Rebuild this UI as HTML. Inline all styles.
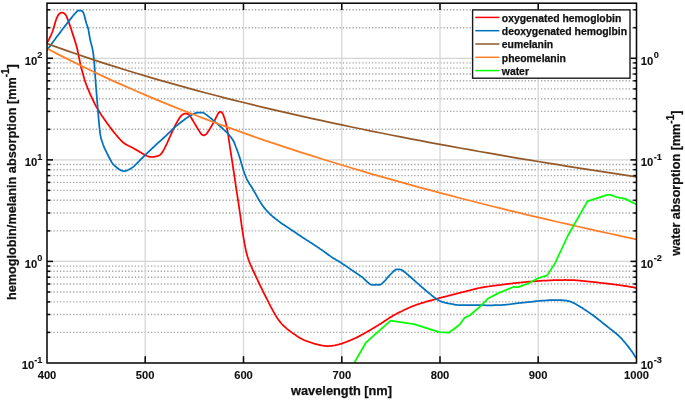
<!DOCTYPE html>
<html><head><meta charset="utf-8"><title>absorption spectra</title>
<style>html,body{margin:0;padding:0;background:#fff}</style></head>
<body>
<svg width="685" height="400" viewBox="0 0 685 400" style="display:block">
<rect width="685" height="400" fill="#fff"/>
<g stroke="#a6a6a6" stroke-width="1.4" stroke-dasharray="1.3 1.95" fill="none">
<line x1="47.0" x2="636.5" y1="332.4" y2="332.4"/>
<line x1="47.0" x2="636.5" y1="314.5" y2="314.5"/>
<line x1="47.0" x2="636.5" y1="301.9" y2="301.9"/>
<line x1="47.0" x2="636.5" y1="292.0" y2="292.0"/>
<line x1="47.0" x2="636.5" y1="284.0" y2="284.0"/>
<line x1="47.0" x2="636.5" y1="277.2" y2="277.2"/>
<line x1="47.0" x2="636.5" y1="271.3" y2="271.3"/>
<line x1="47.0" x2="636.5" y1="266.1" y2="266.1"/>
<line x1="47.0" x2="636.5" y1="230.9" y2="230.9"/>
<line x1="47.0" x2="636.5" y1="213.0" y2="213.0"/>
<line x1="47.0" x2="636.5" y1="200.3" y2="200.3"/>
<line x1="47.0" x2="636.5" y1="190.4" y2="190.4"/>
<line x1="47.0" x2="636.5" y1="182.4" y2="182.4"/>
<line x1="47.0" x2="636.5" y1="175.6" y2="175.6"/>
<line x1="47.0" x2="636.5" y1="169.7" y2="169.7"/>
<line x1="47.0" x2="636.5" y1="164.5" y2="164.5"/>
<line x1="47.0" x2="636.5" y1="129.3" y2="129.3"/>
<line x1="47.0" x2="636.5" y1="111.4" y2="111.4"/>
<line x1="47.0" x2="636.5" y1="98.7" y2="98.7"/>
<line x1="47.0" x2="636.5" y1="88.9" y2="88.9"/>
<line x1="47.0" x2="636.5" y1="80.8" y2="80.8"/>
<line x1="47.0" x2="636.5" y1="74.0" y2="74.0"/>
<line x1="47.0" x2="636.5" y1="68.1" y2="68.1"/>
<line x1="47.0" x2="636.5" y1="62.9" y2="62.9"/>
<line x1="47.0" x2="636.5" y1="27.7" y2="27.7"/>
<line x1="47.0" x2="636.5" y1="9.8" y2="9.8"/>
</g>
<g stroke="#d4d4d4" stroke-width="1.2" fill="none">
<line x1="47.0" x2="636.5" y1="261.4" y2="261.4"/>
<line x1="47.0" x2="636.5" y1="159.9" y2="159.9"/>
<line x1="47.0" x2="636.5" y1="58.3" y2="58.3"/>
<line x1="145.2" x2="145.2" y1="3.2" y2="363.0"/>
<line x1="243.5" x2="243.5" y1="3.2" y2="363.0"/>
<line x1="341.8" x2="341.8" y1="3.2" y2="363.0"/>
<line x1="440.0" x2="440.0" y1="3.2" y2="363.0"/>
<line x1="538.2" x2="538.2" y1="3.2" y2="363.0"/>
</g>
<clipPath id="c"><rect x="47.0" y="3.2" width="589.5" height="359.8"/></clipPath>
<g clip-path="url(#c)" fill="none" stroke-width="1.75" stroke-linejoin="round">
<polyline stroke="#ff0000" points="47.0,42.7 48.0,41.1 49.0,39.4 49.9,37.4 50.9,35.3 51.9,33.0 52.9,30.3 53.9,27.1 54.9,23.7 55.8,20.5 56.8,17.9 57.8,15.8 58.8,14.3 59.8,13.3 60.8,12.8 61.7,12.6 62.7,12.7 63.7,13.1 64.7,13.8 65.7,14.8 66.7,16.6 67.6,19.1 68.6,21.8 69.6,24.6 70.6,27.5 71.6,30.4 72.5,33.4 73.5,36.4 74.5,39.5 75.5,42.8 76.5,46.1 77.5,50.0 78.4,54.6 79.4,59.4 80.4,64.1 81.4,68.2 82.4,72.0 83.4,75.5 84.3,78.9 85.3,82.0 86.3,84.7 87.3,87.2 88.3,89.6 89.2,91.9 90.2,94.2 91.2,96.3 92.2,98.4 93.2,100.5 94.2,102.6 95.1,104.5 96.1,106.4 97.1,108.1 98.1,109.7 99.1,111.3 100.1,112.9 101.0,114.4 102.0,115.9 103.0,117.3 104.0,118.8 105.0,120.2 106.0,121.6 106.9,122.9 107.9,124.3 108.9,125.6 109.9,127.0 110.9,128.3 111.8,129.6 112.8,130.8 113.8,132.1 114.8,133.3 115.8,134.5 116.8,135.6 117.7,136.8 118.7,137.9 119.7,139.0 120.7,140.1 121.7,141.1 122.7,142.0 123.6,142.8 124.6,143.6 125.6,144.2 126.6,144.8 127.6,145.3 128.5,145.8 129.5,146.3 130.5,146.8 131.5,147.3 132.5,147.8 133.5,148.3 134.4,148.8 135.4,149.4 136.4,149.9 137.4,150.5 138.4,151.1 139.4,151.7 140.3,152.3 141.3,152.8 142.3,153.4 143.3,154.0 144.3,154.6 145.2,155.1 146.2,155.6 147.2,156.0 148.2,156.3 149.2,156.6 150.2,156.8 151.1,156.9 152.1,157.0 153.1,156.9 154.1,156.8 155.1,156.6 156.1,156.4 157.0,156.2 158.0,155.9 159.0,155.5 160.0,154.9 161.0,154.0 162.0,152.8 162.9,151.3 163.9,149.6 164.9,147.7 165.9,145.7 166.9,143.6 167.8,141.5 168.8,139.3 169.8,137.0 170.8,134.8 171.8,132.6 172.8,130.4 173.7,128.3 174.7,126.3 175.7,124.4 176.7,122.6 177.7,120.8 178.7,119.2 179.6,117.7 180.6,116.4 181.6,115.3 182.6,114.6 183.6,114.0 184.6,113.7 185.5,113.5 186.5,113.6 187.5,113.9 188.5,114.4 189.5,115.1 190.4,116.4 191.4,118.0 192.4,119.7 193.4,121.4 194.4,123.1 195.4,124.7 196.3,126.3 197.3,127.9 198.3,129.5 199.3,131.1 200.3,132.7 201.3,134.0 202.2,134.8 203.2,135.3 204.2,135.3 205.2,134.9 206.2,134.1 207.1,133.1 208.1,131.6 209.1,130.1 210.1,128.4 211.1,126.8 212.1,125.1 213.0,123.3 214.0,121.6 215.0,119.7 216.0,117.7 217.0,115.7 218.0,113.8 218.9,112.5 219.9,111.8 220.9,111.8 221.9,112.6 222.9,114.0 223.8,116.3 224.8,119.2 225.8,122.6 226.8,127.0 227.8,132.7 228.8,139.1 229.7,145.5 230.7,151.9 231.7,158.4 232.7,164.9 233.7,171.3 234.7,177.8 235.6,184.3 236.6,190.8 237.6,197.3 238.6,203.9 239.6,210.8 240.6,217.7 241.5,224.6 242.5,231.3 243.5,237.7 244.5,243.4 245.5,248.3 246.4,252.6 247.4,256.2 248.4,259.3 249.4,262.1 250.4,264.5 251.4,266.7 252.3,268.8 253.3,270.9 254.3,273.0 255.3,275.2 256.3,277.3 257.3,279.4 258.2,281.5 259.2,283.5 260.2,285.6 261.2,287.6 262.2,289.6 263.1,291.6 264.1,293.6 265.1,295.5 266.1,297.5 267.1,299.4 268.1,301.4 269.0,303.3 270.0,305.2 271.0,307.1 272.0,308.9 273.0,310.8 274.0,312.6 274.9,314.3 275.9,315.9 276.9,317.5 277.9,318.9 278.9,320.3 279.9,321.6 280.8,322.8 281.8,324.0 282.8,325.0 283.8,325.9 284.8,326.9 285.7,327.7 286.7,328.6 287.7,329.4 288.7,330.2 289.7,330.9 290.7,331.7 291.6,332.4 292.6,333.1 293.6,333.8 294.6,334.4 295.6,335.1 296.6,335.8 297.5,336.4 298.5,337.1 299.5,337.7 300.5,338.3 301.5,338.8 302.5,339.3 303.4,339.7 304.4,340.2 305.4,340.6 306.4,341.0 307.4,341.3 308.3,341.7 309.3,342.0 310.3,342.3 311.3,342.7 312.3,343.0 313.3,343.3 314.2,343.6 315.2,343.9 316.2,344.1 317.2,344.4 318.2,344.7 319.2,344.9 320.1,345.1 321.1,345.3 322.1,345.5 323.1,345.7 324.1,345.8 325.0,345.9 326.0,346.0 327.0,346.0 328.0,346.0 329.0,346.0 330.0,345.9 330.9,345.9 331.9,345.8 332.9,345.6 333.9,345.5 334.9,345.4 335.9,345.2 336.8,345.0 337.8,344.7 338.8,344.5 339.8,344.2 340.8,343.9 341.8,343.6 342.7,343.2 343.7,342.9 344.7,342.5 345.7,342.2 346.7,341.8 347.6,341.4 348.6,341.0 349.6,340.6 350.6,340.2 351.6,339.8 352.6,339.4 353.5,338.9 354.5,338.5 355.5,338.0 356.5,337.6 357.5,337.1 358.5,336.6 359.4,336.1 360.4,335.6 361.4,335.0 362.4,334.5 363.4,333.9 364.3,333.4 365.3,332.8 366.3,332.3 367.3,331.7 368.3,331.1 369.3,330.6 370.2,330.0 371.2,329.4 372.2,328.8 373.2,328.2 374.2,327.6 375.2,327.1 376.1,326.5 377.1,325.9 378.1,325.3 379.1,324.6 380.1,324.0 381.1,323.4 382.0,322.8 383.0,322.2 384.0,321.5 385.0,320.8 386.0,320.2 386.9,319.5 387.9,318.9 388.9,318.2 389.9,317.6 390.9,317.0 391.9,316.4 392.8,315.8 393.8,315.2 394.8,314.7 395.8,314.2 396.8,313.6 397.8,313.1 398.7,312.6 399.7,312.1 400.7,311.7 401.7,311.2 402.7,310.7 403.6,310.2 404.6,309.8 405.6,309.3 406.6,308.9 407.6,308.4 408.6,308.0 409.5,307.5 410.5,307.1 411.5,306.7 412.5,306.3 413.5,305.9 414.5,305.5 415.4,305.1 416.4,304.8 417.4,304.4 418.4,304.1 419.4,303.8 420.3,303.5 421.3,303.2 422.3,302.9 423.3,302.6 424.3,302.3 425.3,302.0 426.2,301.7 427.2,301.4 428.2,301.2 429.2,300.9 430.2,300.6 431.2,300.3 432.1,300.1 433.1,299.8 434.1,299.5 435.1,299.3 436.1,299.0 437.1,298.7 438.0,298.5 439.0,298.2 440.0,297.9 441.0,297.7 442.0,297.4 442.9,297.2 443.9,296.9 444.9,296.7 445.9,296.4 446.9,296.2 447.9,295.9 448.8,295.6 449.8,295.4 450.8,295.1 451.8,294.9 452.8,294.6 453.8,294.4 454.7,294.1 455.7,293.9 456.7,293.6 457.7,293.4 458.7,293.1 459.6,292.8 460.6,292.6 461.6,292.3 462.6,292.1 463.6,291.8 464.6,291.6 465.5,291.3 466.5,291.1 467.5,290.8 468.5,290.6 469.5,290.3 470.5,290.1 471.4,289.8 472.4,289.6 473.4,289.4 474.4,289.1 475.4,288.9 476.4,288.7 477.3,288.4 478.3,288.2 479.3,288.0 480.3,287.8 481.3,287.6 482.2,287.4 483.2,287.3 484.2,287.1 485.2,286.9 486.2,286.8 487.2,286.6 488.1,286.5 489.1,286.4 490.1,286.2 491.1,286.1 492.1,286.0 493.1,285.8 494.0,285.7 495.0,285.6 496.0,285.5 497.0,285.3 498.0,285.2 499.0,285.1 499.9,285.0 500.9,284.8 501.9,284.7 502.9,284.6 503.9,284.4 504.8,284.3 505.8,284.2 506.8,284.1 507.8,283.9 508.8,283.8 509.8,283.7 510.7,283.6 511.7,283.5 512.7,283.3 513.7,283.2 514.7,283.1 515.7,283.0 516.6,282.9 517.6,282.8 518.6,282.7 519.6,282.6 520.6,282.5 521.5,282.4 522.5,282.3 523.5,282.2 524.5,282.1 525.5,282.0 526.5,281.9 527.4,281.8 528.4,281.7 529.4,281.7 530.4,281.6 531.4,281.5 532.4,281.4 533.3,281.4 534.3,281.3 535.3,281.2 536.3,281.1 537.3,281.1 538.2,281.0 539.2,280.9 540.2,280.9 541.2,280.8 542.2,280.7 543.2,280.7 544.1,280.6 545.1,280.6 546.1,280.5 547.1,280.5 548.1,280.4 549.1,280.4 550.0,280.3 551.0,280.3 552.0,280.3 553.0,280.2 554.0,280.2 555.0,280.2 555.9,280.1 556.9,280.1 557.9,280.1 558.9,280.0 559.9,280.0 560.8,280.0 561.8,280.0 562.8,280.0 563.8,280.0 564.8,279.9 565.8,279.9 566.7,280.0 567.7,280.0 568.7,280.0 569.7,280.0 570.7,280.0 571.7,280.1 572.6,280.1 573.6,280.2 574.6,280.2 575.6,280.3 576.6,280.3 577.6,280.4 578.5,280.5 579.5,280.6 580.5,280.7 581.5,280.8 582.5,280.9 583.4,281.0 584.4,281.1 585.4,281.2 586.4,281.3 587.4,281.4 588.4,281.5 589.3,281.6 590.3,281.7 591.3,281.8 592.3,281.9 593.3,282.0 594.3,282.1 595.2,282.2 596.2,282.3 597.2,282.4 598.2,282.5 599.2,282.7 600.1,282.8 601.1,282.9 602.1,283.0 603.1,283.1 604.1,283.2 605.1,283.3 606.0,283.4 607.0,283.6 608.0,283.7 609.0,283.8 610.0,283.9 611.0,284.0 611.9,284.1 612.9,284.3 613.9,284.4 614.9,284.5 615.9,284.6 616.9,284.8 617.8,284.9 618.8,285.0 619.8,285.2 620.8,285.3 621.8,285.5 622.7,285.6 623.7,285.8 624.7,285.9 625.7,286.1 626.7,286.2 627.7,286.4 628.6,286.6 629.6,286.7 630.6,286.9 631.6,287.1 632.6,287.2 633.6,287.4 634.5,287.6 635.5,287.8 636.5,287.9"/>
<polyline stroke="#0072bd" points="47.0,50.4 48.0,49.0 49.0,47.6 49.9,46.3 50.9,44.9 51.9,43.5 52.9,42.2 53.9,40.8 54.9,39.5 55.8,38.1 56.8,36.8 57.8,35.5 58.8,34.2 59.8,32.9 60.8,31.6 61.7,30.3 62.7,29.0 63.7,27.7 64.7,26.4 65.7,25.1 66.7,23.9 67.6,22.6 68.6,21.3 69.6,20.1 70.6,18.9 71.6,17.6 72.5,16.5 73.5,15.3 74.5,14.1 75.5,13.0 76.5,11.9 77.5,11.1 78.4,10.6 79.4,10.5 80.4,10.5 81.4,10.7 82.4,11.3 83.4,12.7 84.3,15.3 85.3,19.2 86.3,23.3 87.3,26.0 88.3,28.9 89.2,34.3 90.2,40.0 91.2,43.9 92.2,47.7 93.2,52.9 94.2,61.6 95.1,74.6 96.1,88.1 97.1,100.3 98.1,112.2 99.1,124.1 100.1,133.4 101.0,138.2 102.0,141.2 103.0,144.3 104.0,147.0 105.0,149.1 106.0,151.1 106.9,153.0 107.9,155.0 108.9,157.0 109.9,158.9 110.9,160.8 111.8,162.4 112.8,163.8 113.8,164.9 114.8,165.8 115.8,166.7 116.8,167.5 117.7,168.3 118.7,169.0 119.7,169.6 120.7,170.2 121.7,170.6 122.7,170.9 123.6,171.0 124.6,171.0 125.6,170.9 126.6,170.6 127.6,170.2 128.5,169.8 129.5,169.3 130.5,168.7 131.5,168.1 132.5,167.4 133.5,166.6 134.4,165.8 135.4,164.8 136.4,163.9 137.4,162.9 138.4,161.9 139.4,160.9 140.3,159.9 141.3,158.9 142.3,157.9 143.3,156.9 144.3,155.9 145.2,155.0 146.2,154.0 147.2,153.1 148.2,152.2 149.2,151.2 150.2,150.3 151.1,149.3 152.1,148.4 153.1,147.5 154.1,146.6 155.1,145.6 156.1,144.7 157.0,143.8 158.0,142.9 159.0,142.0 160.0,141.2 161.0,140.3 162.0,139.4 162.9,138.5 163.9,137.6 164.9,136.7 165.9,135.8 166.9,134.8 167.8,133.9 168.8,133.0 169.8,132.0 170.8,131.1 171.8,130.1 172.8,129.2 173.7,128.3 174.7,127.3 175.7,126.4 176.7,125.6 177.7,124.8 178.7,124.0 179.6,123.2 180.6,122.5 181.6,121.7 182.6,121.0 183.6,120.3 184.6,119.5 185.5,118.8 186.5,118.1 187.5,117.4 188.5,116.8 189.5,116.1 190.4,115.5 191.4,115.0 192.4,114.5 193.4,114.0 194.4,113.5 195.4,113.1 196.3,112.9 197.3,112.7 198.3,112.7 199.3,112.6 200.3,112.6 201.3,112.6 202.2,112.6 203.2,112.7 204.2,113.2 205.2,113.9 206.2,114.6 207.1,115.3 208.1,116.1 209.1,116.8 210.1,117.7 211.1,118.5 212.1,119.3 213.0,120.2 214.0,121.0 215.0,121.8 216.0,122.7 217.0,123.5 218.0,124.4 218.9,125.3 219.9,126.1 220.9,127.0 221.9,127.9 222.9,128.8 223.8,129.7 224.8,130.6 225.8,131.5 226.8,132.4 227.8,133.4 228.8,134.5 229.7,135.7 230.7,136.9 231.7,138.3 232.7,139.8 233.7,141.5 234.7,143.6 235.6,146.2 236.6,148.8 237.6,151.5 238.6,154.3 239.6,157.3 240.6,160.6 241.5,163.9 242.5,167.2 243.5,170.5 244.5,173.5 245.5,176.0 246.4,178.3 247.4,180.3 248.4,182.0 249.4,183.7 250.4,185.2 251.4,186.7 252.3,188.3 253.3,189.9 254.3,191.7 255.3,193.4 256.3,195.2 257.3,196.9 258.2,198.7 259.2,200.3 260.2,201.9 261.2,203.5 262.2,205.0 263.1,206.3 264.1,207.6 265.1,208.9 266.1,210.0 267.1,211.1 268.1,212.2 269.0,213.2 270.0,214.1 271.0,215.0 272.0,215.9 273.0,216.7 274.0,217.5 274.9,218.3 275.9,219.1 276.9,219.8 277.9,220.6 278.9,221.4 279.9,222.1 280.8,222.8 281.8,223.5 282.8,224.2 283.8,224.8 284.8,225.5 285.7,226.1 286.7,226.8 287.7,227.4 288.7,228.1 289.7,228.7 290.7,229.4 291.6,230.0 292.6,230.7 293.6,231.3 294.6,232.0 295.6,232.7 296.6,233.3 297.5,234.0 298.5,234.7 299.5,235.3 300.5,236.0 301.5,236.7 302.5,237.3 303.4,238.0 304.4,238.6 305.4,239.2 306.4,239.9 307.4,240.5 308.3,241.1 309.3,241.7 310.3,242.4 311.3,243.0 312.3,243.6 313.3,244.3 314.2,244.9 315.2,245.6 316.2,246.2 317.2,246.9 318.2,247.6 319.2,248.2 320.1,248.9 321.1,249.6 322.1,250.2 323.1,250.9 324.1,251.6 325.0,252.3 326.0,253.0 327.0,253.8 328.0,254.5 329.0,255.2 330.0,255.9 330.9,256.6 331.9,257.3 332.9,257.9 333.9,258.5 334.9,259.1 335.9,259.7 336.8,260.2 337.8,260.8 338.8,261.4 339.8,261.9 340.8,262.6 341.8,263.2 342.7,263.9 343.7,264.5 344.7,265.2 345.7,265.9 346.7,266.6 347.6,267.2 348.6,267.9 349.6,268.6 350.6,269.3 351.6,269.9 352.6,270.6 353.5,271.3 354.5,271.9 355.5,272.6 356.5,273.3 357.5,273.9 358.5,274.6 359.4,275.2 360.4,275.9 361.4,276.6 362.4,277.3 363.4,278.1 364.3,279.1 365.3,280.0 366.3,281.0 367.3,281.9 368.3,282.8 369.3,283.6 370.2,284.2 371.2,284.7 372.2,284.9 373.2,285.0 374.2,284.9 375.2,284.8 376.1,284.7 377.1,284.7 378.1,284.8 379.1,284.8 380.1,284.6 381.1,284.2 382.0,283.4 383.0,282.6 384.0,281.6 385.0,280.6 386.0,279.5 386.9,278.3 387.9,277.2 388.9,276.1 389.9,275.0 390.9,274.0 391.9,273.0 392.8,272.0 393.8,271.1 394.8,270.2 395.8,269.6 396.8,269.3 397.8,269.3 398.7,269.4 399.7,269.4 400.7,269.6 401.7,269.9 402.7,270.5 403.6,271.3 404.6,272.1 405.6,272.8 406.6,273.7 407.6,274.5 408.6,275.3 409.5,276.2 410.5,277.0 411.5,277.9 412.5,278.8 413.5,279.7 414.5,280.5 415.4,281.4 416.4,282.3 417.4,283.2 418.4,284.0 419.4,284.9 420.3,285.8 421.3,286.6 422.3,287.5 423.3,288.3 424.3,289.2 425.3,290.0 426.2,290.8 427.2,291.7 428.2,292.5 429.2,293.3 430.2,294.1 431.2,294.9 432.1,295.7 433.1,296.5 434.1,297.3 435.1,298.0 436.1,298.7 437.1,299.4 438.0,300.0 439.0,300.5 440.0,301.0 441.0,301.4 442.0,301.8 442.9,302.1 443.9,302.4 444.9,302.7 445.9,302.9 446.9,303.1 447.9,303.3 448.8,303.5 449.8,303.7 450.8,303.8 451.8,304.0 452.8,304.2 453.8,304.4 454.7,304.6 455.7,304.8 456.7,304.9 457.7,305.0 458.7,305.1 459.6,305.2 460.6,305.2 461.6,305.2 462.6,305.2 463.6,305.2 464.6,305.2 465.5,305.2 466.5,305.1 467.5,305.1 468.5,305.1 469.5,305.2 470.5,305.2 471.4,305.2 472.4,305.2 473.4,305.2 474.4,305.2 475.4,305.2 476.4,305.2 477.3,305.2 478.3,305.2 479.3,305.2 480.3,305.2 481.3,305.2 482.2,305.2 483.2,305.2 484.2,305.2 485.2,305.3 486.2,305.3 487.2,305.3 488.1,305.3 489.1,305.3 490.1,305.3 491.1,305.3 492.1,305.3 493.1,305.3 494.0,305.2 495.0,305.2 496.0,305.2 497.0,305.2 498.0,305.1 499.0,305.1 499.9,305.1 500.9,305.0 501.9,305.0 502.9,304.9 503.9,304.8 504.8,304.8 505.8,304.7 506.8,304.6 507.8,304.5 508.8,304.4 509.8,304.3 510.7,304.2 511.7,304.0 512.7,303.9 513.7,303.7 514.7,303.6 515.7,303.5 516.6,303.3 517.6,303.2 518.6,303.1 519.6,303.0 520.6,302.9 521.5,302.8 522.5,302.7 523.5,302.6 524.5,302.5 525.5,302.4 526.5,302.3 527.4,302.2 528.4,302.1 529.4,302.0 530.4,301.9 531.4,301.8 532.4,301.7 533.3,301.6 534.3,301.4 535.3,301.3 536.3,301.2 537.3,301.1 538.2,301.0 539.2,300.9 540.2,300.8 541.2,300.7 542.2,300.7 543.2,300.6 544.1,300.5 545.1,300.5 546.1,300.4 547.1,300.3 548.1,300.3 549.1,300.2 550.0,300.2 551.0,300.2 552.0,300.1 553.0,300.1 554.0,300.1 555.0,300.1 555.9,300.1 556.9,300.1 557.9,300.1 558.9,300.1 559.9,300.1 560.8,300.2 561.8,300.2 562.8,300.3 563.8,300.3 564.8,300.4 565.8,300.6 566.7,300.7 567.7,300.9 568.7,301.1 569.7,301.4 570.7,301.7 571.7,302.1 572.6,302.5 573.6,303.0 574.6,303.5 575.6,304.0 576.6,304.6 577.6,305.2 578.5,305.7 579.5,306.3 580.5,306.9 581.5,307.5 582.5,308.1 583.4,308.7 584.4,309.4 585.4,310.0 586.4,310.7 587.4,311.4 588.4,312.1 589.3,312.7 590.3,313.4 591.3,314.1 592.3,314.8 593.3,315.5 594.3,316.3 595.2,317.0 596.2,317.7 597.2,318.5 598.2,319.3 599.2,320.1 600.1,320.8 601.1,321.6 602.1,322.4 603.1,323.2 604.1,324.0 605.1,324.7 606.0,325.5 607.0,326.3 608.0,327.1 609.0,327.9 610.0,328.7 611.0,329.4 611.9,330.2 612.9,331.0 613.9,331.8 614.9,332.6 615.9,333.4 616.9,334.2 617.8,335.0 618.8,335.9 619.8,336.8 620.8,337.8 621.8,338.9 622.7,340.0 623.7,341.1 624.7,342.3 625.7,343.5 626.7,344.7 627.7,345.9 628.6,347.1 629.6,348.4 630.6,349.8 631.6,351.1 632.6,352.5 633.6,354.0 634.5,355.5 635.5,357.0 636.5,358.5"/>
<polyline stroke="#94592a" points="47.0,43.5 56.8,47.1 66.7,50.6 76.5,54.0 86.3,57.3 96.1,60.6 106.0,63.8 115.8,66.9 125.6,70.0 135.4,73.0 145.2,75.9 155.1,78.8 164.9,81.7 174.7,84.4 184.6,87.2 194.4,89.8 204.2,92.5 214.0,95.0 223.8,97.6 233.7,100.1 243.5,102.5 253.3,104.9 263.1,107.3 273.0,109.6 282.8,111.9 292.6,114.2 302.5,116.4 312.3,118.6 322.1,120.7 331.9,122.8 341.8,124.9 351.6,127.0 361.4,129.0 371.2,131.1 381.1,133.0 390.9,135.0 400.7,136.9 410.5,138.8 420.3,140.7 430.2,142.6 440.0,144.4 449.8,146.2 459.6,148.0 469.5,149.7 479.3,151.5 489.1,153.2 499.0,154.9 508.8,156.6 518.6,158.3 528.4,159.9 538.2,161.5 548.1,163.1 557.9,164.7 567.7,166.3 577.6,167.9 587.4,169.4 597.2,170.9 607.0,172.4 616.9,173.9 626.7,175.4 636.5,176.9"/>
<polyline stroke="#ff7f27" points="47.0,48.5 56.8,53.6 66.7,58.6 76.5,63.5 86.3,68.3 96.1,73.0 106.0,77.6 115.8,82.1 125.6,86.4 135.4,90.7 145.2,94.9 155.1,99.1 164.9,103.1 174.7,107.1 184.6,111.0 194.4,114.8 204.2,118.6 214.0,122.2 223.8,125.9 233.7,129.4 243.5,132.9 253.3,136.4 263.1,139.8 273.0,143.1 282.8,146.4 292.6,149.6 302.5,152.8 312.3,155.9 322.1,159.0 331.9,162.0 341.8,165.0 351.6,168.0 361.4,170.9 371.2,173.8 381.1,176.6 390.9,179.4 400.7,182.2 410.5,184.9 420.3,187.6 430.2,190.2 440.0,192.9 449.8,195.4 459.6,198.0 469.5,200.5 479.3,203.0 489.1,205.5 499.0,207.9 508.8,210.3 518.6,212.7 528.4,215.1 538.2,217.4 548.1,219.7 557.9,222.0 567.7,224.2 577.6,226.5 587.4,228.7 597.2,230.8 607.0,233.0 616.9,235.1 626.7,237.3 636.5,239.3"/>
<polyline stroke="#00ff00" points="341.8,385.2 354.4,362.7 366.1,342.3 390.6,320.7 413.9,324.2 439.3,332.1 448.9,332.7 459.5,324.8 464.7,317.8 469.6,315.5 479.8,306.9 488.5,298.2 499.0,292.9 513.9,286.8 518.3,287.1 528.8,283.3 538.4,278.0 547.2,275.4 555.1,263.1 562.8,246.5 567.7,236.0 587.4,201.4 607.1,194.9 610.6,194.9 616.7,197.2 625.4,198.9 636.5,204.5"/>
</g>
<rect x="47.0" y="3.2" width="589.5" height="359.8" fill="none" stroke="#0a0a0a" stroke-width="1.55"/>
<g stroke="#0a0a0a" stroke-width="1.55" fill="none">
<line x1="145.2" x2="145.2" y1="363.0" y2="356.2"/>
<line x1="145.2" x2="145.2" y1="3.2" y2="10.0"/>
<line x1="243.5" x2="243.5" y1="363.0" y2="356.2"/>
<line x1="243.5" x2="243.5" y1="3.2" y2="10.0"/>
<line x1="341.8" x2="341.8" y1="363.0" y2="356.2"/>
<line x1="341.8" x2="341.8" y1="3.2" y2="10.0"/>
<line x1="440.0" x2="440.0" y1="363.0" y2="356.2"/>
<line x1="440.0" x2="440.0" y1="3.2" y2="10.0"/>
<line x1="538.2" x2="538.2" y1="363.0" y2="356.2"/>
<line x1="538.2" x2="538.2" y1="3.2" y2="10.0"/>
<line x1="47.0" x2="50.2" y1="332.4" y2="332.4"/>
<line x1="636.5" x2="633.3" y1="332.4" y2="332.4"/>
<line x1="47.0" x2="50.2" y1="314.5" y2="314.5"/>
<line x1="636.5" x2="633.3" y1="314.5" y2="314.5"/>
<line x1="47.0" x2="50.2" y1="301.9" y2="301.9"/>
<line x1="636.5" x2="633.3" y1="301.9" y2="301.9"/>
<line x1="47.0" x2="50.2" y1="292.0" y2="292.0"/>
<line x1="636.5" x2="633.3" y1="292.0" y2="292.0"/>
<line x1="47.0" x2="50.2" y1="284.0" y2="284.0"/>
<line x1="636.5" x2="633.3" y1="284.0" y2="284.0"/>
<line x1="47.0" x2="50.2" y1="277.2" y2="277.2"/>
<line x1="636.5" x2="633.3" y1="277.2" y2="277.2"/>
<line x1="47.0" x2="50.2" y1="271.3" y2="271.3"/>
<line x1="636.5" x2="633.3" y1="271.3" y2="271.3"/>
<line x1="47.0" x2="50.2" y1="266.1" y2="266.1"/>
<line x1="636.5" x2="633.3" y1="266.1" y2="266.1"/>
<line x1="47.0" x2="53.0" y1="261.4" y2="261.4"/>
<line x1="636.5" x2="630.5" y1="261.4" y2="261.4"/>
<line x1="47.0" x2="50.2" y1="230.9" y2="230.9"/>
<line x1="636.5" x2="633.3" y1="230.9" y2="230.9"/>
<line x1="47.0" x2="50.2" y1="213.0" y2="213.0"/>
<line x1="636.5" x2="633.3" y1="213.0" y2="213.0"/>
<line x1="47.0" x2="50.2" y1="200.3" y2="200.3"/>
<line x1="636.5" x2="633.3" y1="200.3" y2="200.3"/>
<line x1="47.0" x2="50.2" y1="190.4" y2="190.4"/>
<line x1="636.5" x2="633.3" y1="190.4" y2="190.4"/>
<line x1="47.0" x2="50.2" y1="182.4" y2="182.4"/>
<line x1="636.5" x2="633.3" y1="182.4" y2="182.4"/>
<line x1="47.0" x2="50.2" y1="175.6" y2="175.6"/>
<line x1="636.5" x2="633.3" y1="175.6" y2="175.6"/>
<line x1="47.0" x2="50.2" y1="169.7" y2="169.7"/>
<line x1="636.5" x2="633.3" y1="169.7" y2="169.7"/>
<line x1="47.0" x2="50.2" y1="164.5" y2="164.5"/>
<line x1="636.5" x2="633.3" y1="164.5" y2="164.5"/>
<line x1="47.0" x2="53.0" y1="159.9" y2="159.9"/>
<line x1="636.5" x2="630.5" y1="159.9" y2="159.9"/>
<line x1="47.0" x2="50.2" y1="129.3" y2="129.3"/>
<line x1="636.5" x2="633.3" y1="129.3" y2="129.3"/>
<line x1="47.0" x2="50.2" y1="111.4" y2="111.4"/>
<line x1="636.5" x2="633.3" y1="111.4" y2="111.4"/>
<line x1="47.0" x2="50.2" y1="98.7" y2="98.7"/>
<line x1="636.5" x2="633.3" y1="98.7" y2="98.7"/>
<line x1="47.0" x2="50.2" y1="88.9" y2="88.9"/>
<line x1="636.5" x2="633.3" y1="88.9" y2="88.9"/>
<line x1="47.0" x2="50.2" y1="80.8" y2="80.8"/>
<line x1="636.5" x2="633.3" y1="80.8" y2="80.8"/>
<line x1="47.0" x2="50.2" y1="74.0" y2="74.0"/>
<line x1="636.5" x2="633.3" y1="74.0" y2="74.0"/>
<line x1="47.0" x2="50.2" y1="68.1" y2="68.1"/>
<line x1="636.5" x2="633.3" y1="68.1" y2="68.1"/>
<line x1="47.0" x2="50.2" y1="62.9" y2="62.9"/>
<line x1="636.5" x2="633.3" y1="62.9" y2="62.9"/>
<line x1="47.0" x2="53.0" y1="58.3" y2="58.3"/>
<line x1="636.5" x2="630.5" y1="58.3" y2="58.3"/>
<line x1="47.0" x2="50.2" y1="27.7" y2="27.7"/>
<line x1="636.5" x2="633.3" y1="27.7" y2="27.7"/>
<line x1="47.0" x2="50.2" y1="9.8" y2="9.8"/>
<line x1="636.5" x2="633.3" y1="9.8" y2="9.8"/>
</g>
<g font-family="'Liberation Sans', sans-serif" font-weight="bold" fill="#111" stroke="#111" stroke-width="0.25">
<text x="47.0" y="378.7" font-size="11.2" text-anchor="middle" stroke-width="0.1">400</text>
<text x="145.2" y="378.7" font-size="11.2" text-anchor="middle" stroke-width="0.1">500</text>
<text x="243.5" y="378.7" font-size="11.2" text-anchor="middle" stroke-width="0.1">600</text>
<text x="341.8" y="378.7" font-size="11.2" text-anchor="middle" stroke-width="0.1">700</text>
<text x="440.0" y="378.7" font-size="11.2" text-anchor="middle" stroke-width="0.1">800</text>
<text x="538.2" y="378.7" font-size="11.2" text-anchor="middle" stroke-width="0.1">900</text>
<text x="636.5" y="378.7" font-size="11.2" text-anchor="middle" stroke-width="0.1">1000</text>
<text x="42.4" y="369.2" font-size="11.3" text-anchor="end" stroke-width="0.12">10<tspan font-size="9.2" dy="-6.5">-1</tspan></text>
<text x="640.8" y="369.2" font-size="11.3" stroke-width="0.12">10<tspan font-size="9.2" dy="-6.5" dx="0.4">-3</tspan></text>
<text x="42.4" y="267.6" font-size="11.3" text-anchor="end" stroke-width="0.12">10<tspan font-size="9.2" dy="-6.5">0</tspan></text>
<text x="640.8" y="267.6" font-size="11.3" stroke-width="0.12">10<tspan font-size="9.2" dy="-6.5" dx="0.4">-2</tspan></text>
<text x="42.4" y="166.1" font-size="11.3" text-anchor="end" stroke-width="0.12">10<tspan font-size="9.2" dy="-6.5">1</tspan></text>
<text x="640.8" y="166.1" font-size="11.3" stroke-width="0.12">10<tspan font-size="9.2" dy="-6.5" dx="0.4">-1</tspan></text>
<text x="42.4" y="64.5" font-size="11.3" text-anchor="end" stroke-width="0.12">10<tspan font-size="9.2" dy="-6.5">2</tspan></text>
<text x="640.8" y="64.5" font-size="11.3" stroke-width="0.12">10<tspan font-size="9.2" dy="-6.5" dx="0.4">0</tspan></text>
<text x="341.5" y="394.7" font-size="12.8" text-anchor="middle">wavelength [nm]</text>
<text transform="translate(15.7,182.1) rotate(-90)" font-size="12.7" text-anchor="middle">hemoglobin/melanin absorption [mm<tspan font-size="10" dy="-6.8">-1</tspan><tspan dy="6.8">]</tspan></text>
<text transform="translate(680.3,183.1) rotate(-90)" font-size="12.65" text-anchor="middle">water absorption [mm<tspan font-size="10" dy="-6.8">-1</tspan><tspan dy="6.8">]</tspan></text>
<rect x="472.6" y="9.9" width="157.4" height="68.3" fill="#fff" stroke="#1a1a1a" stroke-width="1.4"/>
<line x1="475.3" x2="499.4" y1="17.4" y2="17.4" stroke="#ff0000" stroke-width="1.5"/>
<text x="501.8" y="21.7" font-size="10.4">oxygenated hemoglobin</text>
<line x1="475.3" x2="499.4" y1="30.7" y2="30.7" stroke="#0072bd" stroke-width="1.5"/>
<text x="501.8" y="35.0" font-size="10.4">deoxygenated hemoglbin</text>
<line x1="475.3" x2="499.4" y1="44.0" y2="44.0" stroke="#94592a" stroke-width="1.5"/>
<text x="501.8" y="48.3" font-size="10.4">eumelanin</text>
<line x1="475.3" x2="499.4" y1="57.3" y2="57.3" stroke="#ff7f27" stroke-width="1.5"/>
<text x="501.8" y="61.6" font-size="10.4">pheomelanin</text>
<line x1="475.3" x2="499.4" y1="70.6" y2="70.6" stroke="#00ff00" stroke-width="1.5"/>
<text x="501.8" y="74.9" font-size="10.4">water</text>
</g>
</svg>
</body></html>
